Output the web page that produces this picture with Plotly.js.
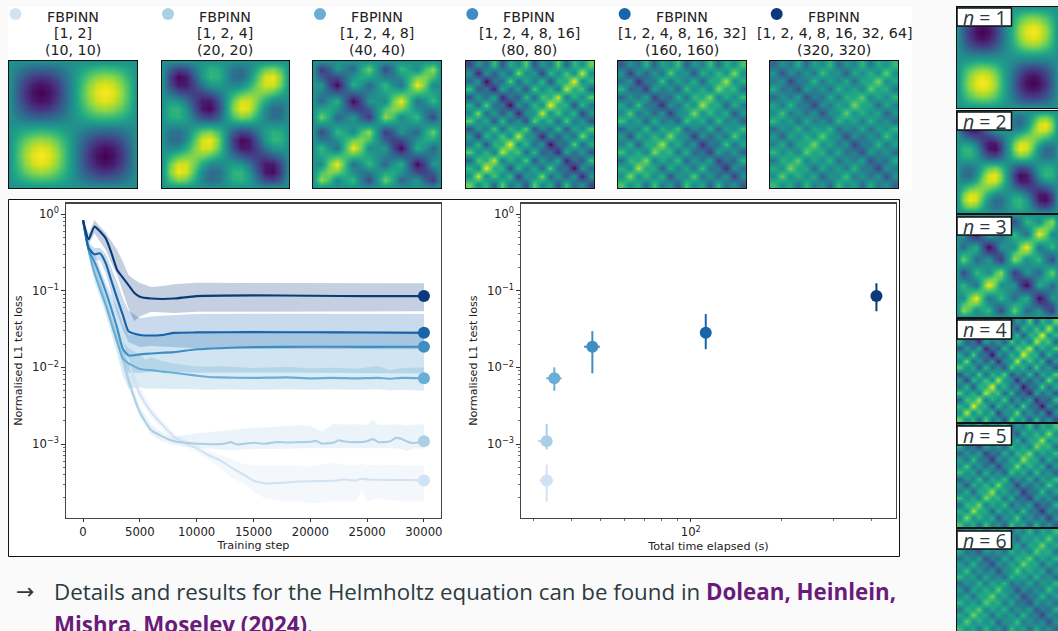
<!DOCTYPE html>
<html><head><meta charset="utf-8">
<script src="https://cdn.plot.ly/plotly-3.0.1.min.js"></script>
<style>html,body{margin:0;padding:0;background:#fafafa;overflow:hidden}</style>
</head><body><div id="g" style="width:1058px;height:631px"></div>
<script>
// ---- data ----
const seriesColors=['#d1e2f3','#abd0e6','#6aaed6','#3e8ec4','#1764ab','#0a3a7a'];
const titleLine1=['FBPINN','FBPINN','FBPINN','FBPINN','FBPINN','FBPINN'];
const titleLine2=['[1, 2]','[1, 2, 4]','[1, 2, 4, 8]','[1, 2, 4, 8, 16]','[1, 2, 4, 8, 16, 32]','[1, 2, 4, 8, 16, 32, 64]'];
const titleLine3=['(10, 10)','(20, 20)','(40, 40)','(80, 80)','(160, 160)','(320, 320)'];

const n1Steps=[0,500,1000,2000,3000,4000,4500,5000,6000,7000,8000,9000,10000,11000,12000,13000,14000,15000,16000,17000,18000,19000,20000,22000,23000,24000,24500,25000,26000,28000,30000];
const n1Loss=[.83,.36,.25,.09,.03,.0125,.0068,.0045,.0026,.00177,.00125,.00102,.00088,.00072,.00062,.0005,.00041,.000332,.000307,.00031,.000316,.000325,.000328,.000332,.000346,.000335,.000353,.000346,.000343,.00034,.000336];
const n1Up=[.83,.42,.3,.11,.037,.016,.0085,.0056,.0031,.002,.0014,.00115,.00098,.00085,.00072,.00065,.00056,.00053,.00052,.00052,.00053,.00052,.00051,.00057,.00054,.00053,.00056,.00053,.00054,.00053,.00053];
const n1Lo=[.83,.3,.2,.07,.024,.01,.0056,.0037,.0022,.0015,.0011,.00092,.00078,.00062,.00051,.00037,.00031,.00024,.000195,.000186,.000177,.00018,.000168,.00018,.00018,.00018,.00025,.00018,.000195,.00018,.000177];

const n2Steps=[0,500,1000,2000,3000,4000,5000,6000,7000,8000,9000,10000,12000,12500,13000,13500,14000,15000,16000,17000,18000,19000,20000,20500,21000,22000,22500,23000,24000,25000,25500,26000,27000,27500,28000,28500,29000,30000];
const n2Loss=[.83,.36,.2,.07,.024,.0068,.0026,.00152,.00125,.00109,.00104,.00101,.001,.00102,.00106,.00099,.001,.00104,.00101,.00106,.00105,.00106,.00107,.0011,.00102,.00104,.00112,.00108,.00106,.00109,.00116,.00106,.00108,.0012,.00117,.00108,.00103,.00109];
const n2Up=[.83,.42,.25,.09,.03,.0085,.0031,.0018,.0014,.00122,.00131,.00138,.00147,.0015,.00152,.00155,.0016,.00163,.00165,.00168,.00172,.00177,.00172,.0016,.00145,.00182,.00182,.0018,.00182,.00178,.0021,.00178,.00178,.00182,.00178,.00175,.00178,.00182];
const n2Lo=[.83,.3,.16,.055,.019,.0055,.0022,.0013,.00108,.00097,.00092,.00089,.00085,.00083,.00083,.00083,.00085,.00086,.00086,.00087,.00087,.00088,.00088,.00088,.00088,.00088,.00088,.00089,.00089,.00089,.0009,.00089,.00088,.00088,.00086,.00081,.00087,.00088];

const n3Steps=[0,500,1000,2000,3000,3500,4000,5000,5500,6000,7000,8000,10000,11000,12000,15000,18000,20000,22000,24000,26000,27000,28000,30000];
const n3Loss=[.83,.34,.17,.065,.0215,.0131,.0113,.0095,.0093,.0092,.0088,.0085,.0078,.0075,.0074,.0073,.0074,.0072,.0073,.0072,.0073,.0071,.0073,.0072];
const n3Up=[.83,.4,.21,.085,.03,.021,.018,.0145,.0125,.0135,.012,.0112,.0103,.0102,.0104,.0098,.0102,.0097,.0099,.0096,.0104,.0092,.0098,.01];
const n3Lo=[.83,.28,.13,.05,.015,.0078,.0053,.0055,.0053,.0053,.0053,.0052,.0052,.0051,.0052,.0051,.0052,.0051,.0052,.0051,.0052,.005,.0051,.00495];

const n4Steps=[0,500,1000,2000,3000,3500,4000,5000,6000,8000,10000,12000,15000,20000,25000,30000];
const n4Loss=[.83,.34,.239,.097,.0325,.0175,.0143,.0148,.0152,.0158,.0172,.0178,.0184,.0186,.0185,.0186];
const n4Up=[.83,.4,.3,.125,.06,.036,.0265,.026,.026,.028,.029,.0295,.03,.0298,.0295,.0297];
const n4Lo=[.83,.28,.19,.075,.02,.0115,.0085,.0085,.0088,.0088,.0085,.0085,.0086,.0085,.0085,.00835];

const n5Steps=[0,500,1000,1500,2000,2500,3000,3500,4000,5000,6000,7000,8000,10000,15000,20000,25000,30000];
const n5Loss=[.83,.357,.298,.307,.227,.134,.0795,.0484,.0295,.0265,.026,.0265,.0282,.0286,.0288,.0287,.0285,.0282];
const n5Up=[.83,.42,.36,.36,.3,.2,.13,.08,.055,.0437,.046,.047,.048,.0495,.05,.0495,.0495,.0495];
const n5Lo=[.83,.3,.25,.25,.17,.09,.05,.031,.0215,.0185,.019,.019,.0185,.0178,.0175,.0174,.0173,.0173];

const n6Steps=[0,500,1000,2000,2500,3000,3500,4000,4500,5000,6000,7000,8000,10000,15000,20000,25000,30000];
const n6Loss=[.83,.468,.684,.482,.31,.186,.148,.118,.094,.0835,.079,.078,.079,.085,.087,.086,.085,.085];
const n6Up=[.83,.55,.835,.565,.44,.34,.24,.16,.14,.126,.112,.115,.121,.127,.126,.125,.125,.125];
const n6Lo=[.83,.4,.56,.34,.23,.16,.097,.059,.04,.046,.053,.052,.051,.053,.054,.054,.054,.054];

const timeElapsed=[33.1,33.1,35.1,47,112.2,415.7];
const timeErrPlus=[1.7,1.4,2.0,2.8,1,3];
const timeErrMinus=[1.8,2.1,2.1,2.9,1,3];
const finalLoss=[3.36e-4,1.09e-3,7.2e-3,1.86e-2,2.82e-2,8.5e-2];
const lossUpper=[5.4e-4,1.84e-3,1e-2,2.97e-2,4.95e-2,.125];
const lossLower=[1.77e-4,8.5e-4,4.95e-3,8.35e-3,1.73e-2,5.4e-2];

// heatmap quadrants (lower-left)
const panel1=[[.14,.27,.35,.38,.35,.27,.14],[.27,.5,.65,.71,.65,.5,.27],[.35,.65,.85,.92,.85,.65,.35],[.38,.71,.92,1,.92,.71,.38],[.35,.65,.85,.92,.85,.65,.35],[.27,.5,.65,.71,.65,.5,.27],[.14,.27,.35,.38,.35,.27,.14]];
const panel2=[[.64,.98,.85,.38,-.15,-.44,-.36],[.98,1.5,1.36,.71,-.06,-.5,-.44],[.85,1.36,1.35,.92,.35,-.06,-.15],[.38,.71,.92,1,.92,.71,.38],[-.15,-.06,.35,.92,1.35,1.36,.85],[-.44,-.5,-.06,.71,1.36,1.5,.98],[-.36,-.44,-.15,.38,.85,.98,.64]];
const panel3=[[1.64,.98,-.15,.38,.85,-.44,-1.36],[.98,1.5,1.36,.71,-.06,-.5,-.44],[-.15,1.36,2.35,.92,-.65,-.06,.85],[.38,.71,.92,1,.92,.71,.38],[.85,-.06,-.65,.92,2.35,1.36,-.15],[-.44,-.5,-.06,.71,1.36,1.5,.98],[-1.36,-.44,.85,.38,-.15,.98,1.64]];
const panel4=[[1.68,-.04,1.02,-1.16,1.56,-.68,.26,-1.6],[-.04,2.66,-.19,1.4,-.3,1.11,-2.04,.26],[1.02,-.19,3.04,.66,.96,-1.66,1.11,-.68],[-1.16,1.4,.66,2.6,-.68,.96,-.3,1.56],[1.56,-.3,.96,-.68,2.6,.66,1.4,-1.16],[-.68,1.11,-1.66,.96,.66,3.04,-.19,1.02],[.26,-2.04,1.11,-.3,1.4,-.19,2.66,-.04],[-1.6,.26,-.68,1.56,-1.16,1.02,-.04,1.68]];
const panelLimits=[1,1.56,2.4,3.1,3.9,4.8];

// ---- layout constants (pixels) ----
const W=1058,H=631;
const fx=p=>p/W, fy=p=>1-p/H;
const dom=(x0,x1,y0,y1)=>({x:[fx(x0),fx(x1)],y:[fy(y1),fy(y0)]});
const topBoxes=[[9,137],[162,289],[313,441],[466,594],[618,746],[770,898]];
const sideBoxes=[[7,108],[111,213],[215,317],[319,422],[424,527],[529,631]];
const titleCentres=[72.7,225,377,529,681.7,834];
const dotCentres=[15.5,168,320,472.3,624.7,776.7];
const labelBoxes=[[8,26],[112,130],[217,235],[320,339],[426,445],[531,549]];

function nodeGrid(q){const m=q.length+1,N=2*m+1,z=[];
 for(let j=0;j<N;j++){const r=[];for(let i=0;i<N;i++){
  if(i%m===0||j%m===0){r.push(0);continue}
  const a=i<m?i:2*m-i,b=j<m?j:2*m-j,s=((i>m)!==(j>m))?-1:1;
  r.push(s*q[b-1][a-1]);}z.push(r)}return z}
function cellGrid(q){const m=q.length,N=2*m,z=[];
 for(let j=0;j<N;j++){const r=[];for(let i=0;i<N;i++){
  const a=i<m?i:N-1-i,b=j<m?j:N-1-j,s=((i>=m)!==(j>=m))?-1:1;
  r.push(s*q[b][a]);}z.push(r)}return z}
const grids=[nodeGrid(panel1),nodeGrid(panel2),nodeGrid(panel3),cellGrid(panel4),cellGrid(panel4),cellGrid(panel4)];
const nodeBased=[true,true,true,false,false,false];

const traces=[],layout={width:W,height:H,margin:{l:0,r:0,t:0,b:0},paper_bgcolor:'#fafafa',plot_bgcolor:'#ffffff',showlegend:false,
 font:{family:'DejaVu Sans',color:'#222'},shapes:[],annotations:[]};

layout.shapes.push({type:'rect',xref:'paper',yref:'paper',x0:fx(8),x1:fx(912),y0:fy(190),y1:fy(7),fillcolor:'#fff',line:{width:0},layer:'below'});
layout.shapes.push({type:'rect',xref:'paper',yref:'paper',x0:fx(8.5),x1:fx(899.5),y0:fy(556.5),y1:fy(199.5),fillcolor:'#fff',line:{width:1,color:'#111'},layer:'below'});

let ax=3;
function addHeat(idx,box,lineCol){
 const xk='xaxis'+ax,yk='yaxis'+ax,z=grids[idx],N=z.length;
 const rng=nodeBased[idx]?[0,N-1]:[-.5,N-.5];
 traces.push({type:'heatmap',z:z,zsmooth:'best',colorscale:'Viridis',zmin:-panelLimits[idx],zmax:panelLimits[idx],showscale:false,hoverinfo:'skip',xaxis:'x'+ax,yaxis:'y'+ax});
 const d=dom(box[0],box[1],box[2],box[3]);
 const base={showgrid:false,zeroline:false,showticklabels:false,ticks:'',showline:true,mirror:true,linecolor:lineCol,linewidth:1,range:rng,fixedrange:true};
 layout[xk]=Object.assign({},base,{domain:d.x,anchor:'y'+ax});
 layout[yk]=Object.assign({},base,{domain:d.y,anchor:'x'+ax});
 ax++;
}
for(let i=0;i<6;i++){addHeat(i,[topBoxes[i][0],topBoxes[i][1],61,188],'#111')}
for(let i=0;i<6;i++){addHeat(i,[957,1058,sideBoxes[i][0],sideBoxes[i][1]],'#111')}

for(let i=0;i<6;i++){
 [titleLine1[i],titleLine2[i],titleLine3[i]].forEach((t,k)=>{
  layout.annotations.push({text:t,xref:'paper',yref:'paper',x:fx(titleCentres[i]),y:fy(17+16.3*k),xanchor:'center',yanchor:'middle',showarrow:false,font:{family:'DejaVu Sans',size:14.2,color:'#222'}});
 });
 layout.shapes.push({type:'circle',xref:'paper',yref:'paper',x0:fx(dotCentres[i]-6),x1:fx(dotCentres[i]+6),y0:fy(20),y1:fy(8),fillcolor:seriesColors[i],line:{width:0},layer:'above'});
 layout.shapes.push({type:'rect',xref:'paper',yref:'paper',x0:fx(957),x1:fx(1011.5),y0:fy(labelBoxes[i][1]),y1:fy(labelBoxes[i][0]),fillcolor:'#fff',line:{width:1.5,color:'#111'},layer:'above'});
 layout.annotations.push({text:'<i>n</i> = '+(i+1),xref:'paper',yref:'paper',x:fx(985),y:fy((labelBoxes[i][0]+labelBoxes[i][1])/2),xanchor:'center',yanchor:'middle',showarrow:false,font:{family:'Open Sans',size:19.5,color:'#2b3a40'}});
}

const rgba=(hex,a)=>{const v=parseInt(hex.slice(1),16);return `rgba(${v>>16},${(v>>8)&255},${v&255},${a})`};
const allSeries=[[n1Steps,n1Loss,n1Up,n1Lo],[n2Steps,n2Loss,n2Up,n2Lo],[n3Steps,n3Loss,n3Up,n3Lo],[n4Steps,n4Loss,n4Up,n4Lo],[n5Steps,n5Loss,n5Up,n5Lo],[n6Steps,n6Loss,n6Up,n6Lo]];
allSeries.forEach((s,i)=>{
 traces.push({type:'scatter',mode:'lines',x:s[0].concat(s[0].slice().reverse()),y:s[2].concat(s[3].slice().reverse()),fill:'toself',fillcolor:rgba(seriesColors[i],.24),line:{width:0},hoverinfo:'skip',xaxis:'x',yaxis:'y'});
});
allSeries.forEach((s,i)=>{
 traces.push({type:'scatter',mode:'lines',x:s[0],y:s[1],line:{color:seriesColors[i],width:2.1,shape:'spline',smoothing:.5},xaxis:'x',yaxis:'y'});
 traces.push({type:'scatter',mode:'markers',x:[s[0][s[0].length-1]],y:[finalLoss[i]],marker:{color:seriesColors[i],size:12},xaxis:'x',yaxis:'y'});
});
seriesColors.forEach((c,i)=>{
 traces.push({type:'scatter',mode:'markers',x:[timeElapsed[i]],y:[finalLoss[i]],marker:{color:c,size:12},xaxis:'x2',yaxis:'y2',
  error_y:{type:'data',symmetric:false,array:[lossUpper[i]-finalLoss[i]],arrayminus:[finalLoss[i]-lossLower[i]],color:c,thickness:2,width:0},
  error_x:{type:'data',symmetric:false,array:[timeErrPlus[i]],arrayminus:[timeErrMinus[i]],color:c,thickness:2,width:0}});
});
const yTicks=[1e-3,1e-2,1e-1,1],yText=['10<sup>−3</sup>','10<sup>−2</sup>','10<sup>−1</sup>','10<sup>0</sup>'];
const yMinor=[];[1e-4,1e-3,1e-2,1e-1].forEach(d=>{for(let k=2;k<10;k++)yMinor.push(d*k)});
const tf={size:11.7,color:'#222'};
const spine={showgrid:false,zeroline:false,showline:true,mirror:true,linecolor:'#444',linewidth:1.2,ticks:'outside',ticklen:3.5,tickwidth:1,tickcolor:'#333',tickfont:tf,fixedrange:true};
const yAxis=d=>Object.assign({},spine,{type:'log',range:[-3.96,.137],domain:d,tickmode:'array',tickvals:yTicks,ticktext:yText,
 minor:{ticks:'outside',ticklen:2,tickwidth:.8,tickcolor:'#444',tickmode:'array',tickvals:yMinor},
 title:{text:'Normalised L1 test loss',font:{size:11.2,color:'#222'},standoff:7}});
const d1=dom(66,441,203.5,517.7),d2=dom(521,896,203.5,517.7);
layout.xaxis=Object.assign({},spine,{domain:d1.x,anchor:'y',range:[-1500,31500],tickmode:'array',tickvals:[0,5000,10000,15000,20000,25000,30000],ticktext:['0','5000','10000','15000','20000','25000','30000'],title:{text:'Training step',font:{size:11.2,color:'#222'},standoff:2.5}});
layout.yaxis=Object.assign(yAxis(d1.y),{anchor:'x'});
layout.xaxis2=Object.assign({},spine,{type:'log',domain:d2.x,anchor:'y2',range:[1.4343,2.684],tickmode:'array',tickvals:[100],ticktext:['10<sup>2</sup>'],
 minor:{ticks:'outside',ticklen:2,tickwidth:.8,tickcolor:'#444',tickmode:'array',tickvals:[30,40,50,60,70,80,90,200,300,400]},
 title:{text:'Total time elapsed (s)',font:{size:11.2,color:'#222'},standoff:3.5}});
layout.yaxis2=Object.assign(yAxis(d2.y),{anchor:'x2'});

const ink='#2b3a40',plum='#6a1b7a';
const body=(t,x,y,fam,size)=>layout.annotations.push({text:t,xref:'paper',yref:'paper',x:fx(x),y:fy(y),xanchor:'left',yanchor:'middle',showarrow:false,font:{family:fam,size:size,color:ink}});
body('→',14,591,'DejaVu Sans',22);
body('Details and results for the Helmholtz equation can be found in <b><span style="color:'+plum+'">Dolean, Heinlein,</span></b>',52,591,'Open Sans',22.3);
body('<b><span style="color:'+plum+'">Mishra, Moseley (2024)</span></b>.',52,624,'Open Sans',22.3);

Plotly.newPlot('g',traces,layout,{staticPlot:true,displayModeBar:false});
</script></body></html>
